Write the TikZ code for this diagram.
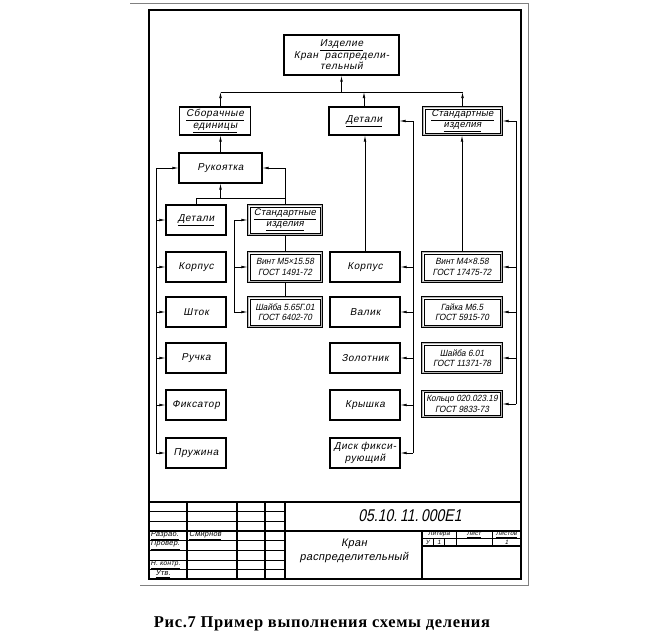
\documentclass[tikz,border=0pt]{standalone}
\usepackage{fontspec}
\setmainfont{Liberation Sans}
\newfontfamily\gost{Liberation Sans}[FakeSlant=0.2,LetterSpace=3]
\newfontfamily\gostw{Liberation Sans}[FakeSlant=0.2,LetterSpace=6]
\newfontfamily\gostd{Liberation Sans}[FakeSlant=0.2,FakeStretch=0.92]
\newfontfamily\gostn{Liberation Sans}[FakeSlant=0.2,FakeStretch=0.82]
\newfontfamily\capfont{Liberation Serif}[LetterSpace=4]
\usetikzlibrary{arrows.meta,calc}
\begin{document}
\begin{tikzpicture}[x=1pt,y=-1pt,
  font=\gostw\fontsize{10}{11.5}\selectfont,
  box/.style={draw, line width=1.1pt, minimum width=60pt, minimum height=30pt, inner sep=1pt, align=center},
  dbox/.style={box, line width=1.1pt, font=\gost\fontsize{9.5}{11}\selectfont},
  gbox/.style={dbox, font=\gostd\fontsize{9}{10.5}\selectfont},
  arr/.style={-{Latex[length=6pt,width=2.6pt]}, line width=0.65pt},
  ln/.style={line width=0.65pt},
  tb/.style={font=\gost\fontsize{7.4}{7.4}\selectfont, inner sep=0.5pt},
  tbs/.style={tb, font=\gost\fontsize{6.2}{6.2}\selectfont},
  thickline/.style={line width=1.3pt},
  thinline/.style={line width=0.5pt}]
\useasboundingbox (0,0) rectangle (645,642);
% sheet and frame
\draw[gray, line width=0.7pt] (130,3) -- (528,3) -- (528,585) -- (140,585);
\draw[line width=1.6pt] (149,10) rectangle (521,579);

% level 0 and 1
\node[box, line width=1.4pt, minimum width=115pt, minimum height=40pt] (top) at (341.5,55) {\underline{Изделие}\\Кран\ \ распредели-\\тельный};
\node[box, minimum width=71pt, minimum height=28pt] (sb) at (215,121) {\underline{Сборачные}\\\underline{единицы}};
\node[box, minimum width=70pt, minimum height=28pt] (det) at (364,121) {\underline{Детали}};
\node[dbox, minimum width=79pt, minimum height=28pt] (std) at (462.5,121) {\underline{Стандартные}\\\underline{изделия}};

% left branch
\node[box, minimum width=83pt, minimum height=30pt] (ruk) at (220.5,168) {Рукоятка};
\node[box] (ldet) at (196,220) {\underline{Детали}};
\node[box] (lkor) at (196,267) {Корпус};
\node[box] (lsht) at (196,312) {Шток};
\node[box] (lruch) at (196,358) {Ручка};
\node[box] (lfix) at (196,405) {Фиксатор};
\node[box] (lpruz) at (196,453) {Пружина};
\node[dbox, minimum width=74pt] (lstd) at (285,220) {\underline{Стандартные}\\\underline{изделия}};
\node[gbox, minimum width=74pt] (lvint) at (285,267) {Винт М5×15.58\\ГОСТ 1491-72};
\node[gbox, minimum width=74pt] (lshaiba) at (285,312) {Шайба 5.65Г.01\\ГОСТ 6402-70};

% middle column
\node[box, minimum width=70pt] (mkor) at (365,267) {Корпус};
\node[box, minimum width=70pt] (mval) at (365,312) {Валик};
\node[box, minimum width=70pt] (mzol) at (365,358) {Золотник};
\node[box, minimum width=70pt] (mkr) at (365,405) {Крышка};
\node[box, minimum width=70pt] (mdisk) at (365,453) {Диск фикси-\\рующий};

% right column
\node[gbox, minimum width=80pt] (rvint) at (462,267) {Винт М4×8.58\\ГОСТ 17475-72};
\node[gbox, minimum width=80pt] (rgaika) at (462,312) {Гайка М6.5\\ГОСТ 5915-70};
\node[gbox, minimum width=80pt] (rshaiba) at (462,358) {Шайба 6.01\\ГОСТ 11371-78};
\node[gbox, minimum width=80pt, minimum height=27pt] (rkolco) at (462,404) {Кольцо 020.023.19\\ГОСТ 9833-73};

% double borders of the standard-part boxes
\foreach \n in {std,lstd,lvint,lshaiba,rvint,rgaika,rshaiba,rkolco}{
  \draw[gray!55, line width=1.2pt] ([shift={(1.4pt,-1.4pt)}]\n.north west) rectangle ([shift={(-1.4pt,1.4pt)}]\n.south east);
  \draw[line width=0.6pt] ([shift={(2.5pt,-2.5pt)}]\n.north west) rectangle ([shift={(-2.5pt,2.5pt)}]\n.south east);
}

% connectors level 1 -> 0
\coordinate (bus) at (0,92);
\draw[ln] (ruk.north |- bus) -- (std.north |- bus);
\draw[arr] (ruk.north |- sb.north) -- (ruk.north |- bus);
\draw[arr] (det.north) -- (det.north |- bus);
\draw[arr] (std.north) -- (std.north |- bus);
\draw[arr] (top.south |- bus) -- (top.south);

% left branch connectors
\draw[arr] (ruk.north) -- (ruk.north |- sb.south);
\coordinate (bus2) at (0,198);
\draw[ln] (ldet.north) |- (bus2 -| lstd.north) -- (lstd.north);
\draw[arr] (ruk.south |- bus2) -- (ruk.south);
\draw[arr] (lstd.north) |- (ruk.east);
\coordinate (lf) at (156,0);
\draw[ln] (lf |- ruk) -- (lf |- lpruz);
\foreach \n in {ruk,ldet,lkor,lsht,lruch,lfix,lpruz}
  \draw[arr] (lf |- \n) -- (\n.west);
\coordinate (lf2) at (234,0);
\draw[ln] (lf2 |- lstd) -- (lf2 |- lshaiba);
\foreach \n in {lstd,lvint,lshaiba}
  \draw[arr] (lf2 |- \n) -- (\n.west);
\draw[ln] (lstd.south) -- (lvint.north);
\draw[ln] (lvint.south) -- (lshaiba.north);

% middle connectors
\draw[arr] (mkor.north) -- (mkor.north |- det.south);
\coordinate (mf) at (413,0);
\draw[ln] (mf |- det) -- (mf |- mdisk);
\foreach \n in {det,mkor,mval,mzol,mkr,mdisk}
  \draw[arr] (mf |- \n) -- (\n.east);

% right connectors
\draw[arr] (rvint.north) -- (rvint.north |- std.south);
\coordinate (rf) at (516,0);
\draw[ln] (rf |- std) -- (rf |- rkolco);
\foreach \n in {std,rvint,rgaika,rshaiba,rkolco}
  \draw[arr] (rf |- \n) -- (\n.east);

% title block
\draw[thickline] (149,502) -- (521,502);
\foreach \x in {187,237,265,285} \draw[thickline] (\x,502) -- (\x,579);
\foreach \y in {511.6,521.3,540.5,550.1,559.8,569.4} \draw[thinline] (149,\y) -- (285,\y);
\draw[thickline] (149,530.9) -- (521,530.9);
\draw[thickline] (422,530.9) -- (422,579);
\draw[thinline] (422,538.5) -- (521,538.5);
\draw[thickline] (422,546) -- (521,546);
\draw[thinline] (456,530.9) -- (456,546);
\draw[thinline] (492,530.9) -- (492,546);
\draw[thinline] (433.3,538.5) -- (433.3,546);
\draw[thinline] (444.7,538.5) -- (444.7,546);

\node[font=\gostn\fontsize{17}{18}\selectfont] (code) at (410,515.5) {05.10.\,11.\,000Е1};
\node[font=\gost\fontsize{11}{14}\selectfont, align=center] (name) at (354,550.5) {Кран\\распределительный};
\node[tb, anchor=west] (t1) at (150,535.6) {\underline{Разраб.}};
\node[tb, anchor=west] (t2) at (188.5,535.6) {\underline{Смирнов}};
\node[tb, anchor=west] (t3) at (150,545.2) {\underline{Провер.}};
\node[tb, anchor=west, font=\gost\fontsize{6.8}{7}\selectfont] (t4) at (150,564.5) {\underline{Н. контр.}};
\node[tb, anchor=west] (t5) at (155,574) {\underline{Утв.}};
\node[tbs] (l1) at (439,534.6) {\underline{Литера}};
\node[tbs] (l2) at (474,534.6) {\underline{Лист}};
\node[tbs] (l3) at (506.5,534.6) {\underline{Листов}};
\node[tbs] (v1) at (427.6,542.2) {У};
\node[tbs] (v2) at (439,542.2) {1};
\node[tbs] (v3) at (506.5,542.2) {1};

% caption
\node[font=\capfont\bfseries\fontsize{16.5}{18}\selectfont] (cap) at (322,624) {Рис.7 Пример выполнения схемы деления};
\end{tikzpicture}
\end{document}
